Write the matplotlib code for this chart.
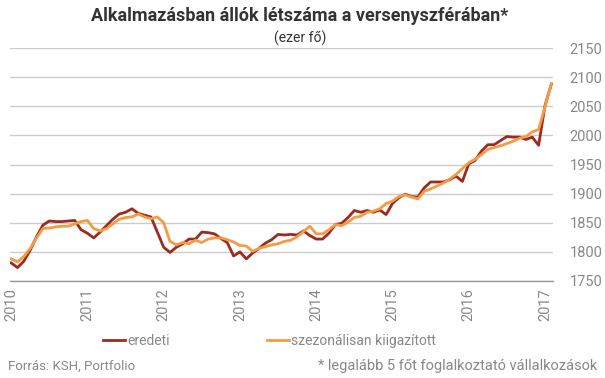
import matplotlib
matplotlib.use('Agg')
import matplotlib.pyplot as plt
import numpy as np

plt.rcParams['font.family'] = ['Roboto', 'DejaVu Sans']

# monthly data, Jan 2010 - Feb 2017 (thousand persons)
start_year = 2010
eredeti = [1781, 1773, 1784, 1803, 1826, 1846, 1853, 1852, 1852, 1853, 1854, 1838,
           1832, 1824, 1834, 1845, 1856, 1865, 1868, 1874, 1866, 1863, 1860, 1834,
           1808, 1799, 1808, 1814, 1822, 1822, 1834, 1833, 1831, 1823, 1816, 1793,
           1800, 1788, 1798, 1806, 1815, 1821, 1830, 1829, 1830, 1829, 1836, 1828,
           1822, 1822, 1832, 1847, 1849, 1859, 1871, 1868, 1871, 1868, 1872, 1864,
           1883, 1893, 1899, 1895, 1894, 1910, 1920, 1920, 1920, 1924, 1930, 1921,
           1951, 1957, 1973, 1984, 1984, 1991, 1998, 1997, 1997, 1993, 1997, 1983,
           2051, 2088]
szezonalis = [1788, 1783, 1792, 1806, 1824, 1840, 1841, 1843, 1844, 1844, 1848, 1852,
              1854, 1840, 1836, 1840, 1848, 1856, 1859, 1860, 1865, 1860, 1857, 1860,
              1850, 1818, 1812, 1816, 1814, 1820, 1816, 1822, 1824, 1824, 1821, 1817,
              1811, 1810, 1801, 1806, 1809, 1812, 1814, 1818, 1820, 1826, 1835, 1844,
              1831, 1831, 1838, 1847, 1845, 1851, 1859, 1861, 1868, 1870, 1874, 1883,
              1887, 1895, 1898, 1894, 1891, 1904, 1908, 1913, 1918, 1925, 1933, 1943,
              1953, 1959, 1967, 1976, 1979, 1982, 1986, 1990, 1995, 1998, 2006, 2010,
              2049, 2089]
years = list(range(2010, 2018))
yticks = [1750, 1800, 1850, 1900, 1950, 2000, 2050, 2100, 2150]

x = start_year + np.arange(len(eredeti)) / 12.0

red = '#9c2b1f'
orange = '#f69a44'
grey = '#888888'

fig = plt.figure(figsize=(6.05, 3.78), dpi=100)
ax = fig.add_axes([10/605, 1-281/378, 543/605, 233/378])

ax.plot(x, eredeti, color=red, lw=2, label='eredeti', zorder=3)
ax.plot(x, szezonalis, color=orange, lw=2, label='szezonálisan kiigazított', zorder=3)

ax.set_ylim(1750, 2150)
ax.set_xlim(2009.985, 2017.105)
ax.set_yticks(yticks)
ax.set_xticks(years)
ax.set_xticklabels([str(y) for y in years], rotation=90)
ax.yaxis.tick_right()
ax.tick_params(axis='both', length=0, labelsize=10.5, labelcolor=grey)
ax.tick_params(axis='y', pad=12)
ax.tick_params(axis='x', pad=5)
ax.grid(axis='y', color='#cccccc', lw=1)
ax.grid(axis='x', visible=False)
for s in ['top', 'right', 'left']:
    ax.spines[s].set_visible(False)
ax.spines['bottom'].set_color('#999999')
ax.spines['bottom'].set_linewidth(1)
ax.set_axisbelow(True)

fig.text(300/605, 1-16/378, 'Alkalmazásban állók létszáma a versenyszférában*',
         ha='center', va='center', fontsize=13, fontweight='bold', color='#333333')
fig.text(300/605, 1-38/378, '(ezer fő)', ha='center', va='center', fontsize=10, color='#333333')

fig.legend(loc='center left', bbox_to_anchor=(103/605, 1-341/378), ncol=2, frameon=False,
           fontsize=10, labelcolor=grey, handlelength=1.6, handletextpad=0.15,
           columnspacing=7.0, borderaxespad=0, borderpad=0)

fig.text(8/605, 1-366/378, 'Forrás: KSH, Portfolio', ha='left', va='center',
         fontsize=9.5, color=grey)
fig.text(597/605, 1-366/378, '* legalább 5 főt foglalkoztató vállalkozások', ha='right',
         va='center', fontsize=10.5, color=grey)

fig.savefig('out.png', dpi=100)
